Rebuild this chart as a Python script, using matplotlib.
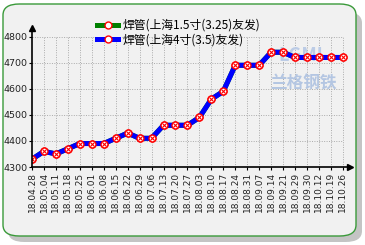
import matplotlib.pyplot as plt
from matplotlib.patches import FancyBboxPatch

plt.rcParams["font.family"] = ["Noto Sans CJK SC", "DejaVu Sans"]

dates = ["18.04.28", "18.05.04", "18.05.11", "18.05.18", "18.05.25", "18.06.01",
         "18.06.08", "18.06.15", "18.06.22", "18.06.29", "18.07.06", "18.07.13",
         "18.07.20", "18.07.27", "18.08.03", "18.08.10", "18.08.17", "18.08.24",
         "18.08.31", "18.09.07", "18.09.14", "18.09.21", "18.09.29", "18.09.30",
         "18.10.12", "18.10.19", "18.10.26"]
pipe_15 = [4330, 4360, 4350, 4370, 4390, 4390, 4390, 4410, 4430, 4410, 4410, 4460,
           4460, 4460, 4490, 4560, 4590, 4690, 4690, 4690, 4740, 4740, 4720, 4720,
           4720, 4720, 4720]
pipe_4 = [4330, 4360, 4350, 4370, 4390, 4390, 4390, 4410, 4430, 4410, 4410, 4460,
          4460, 4460, 4490, 4560, 4590, 4690, 4690, 4690, 4740, 4740, 4720, 4720,
          4720, 4720, 4720]
yticks = [4300, 4400, 4500, 4600, 4700, 4800]
series_names = ["焊管(上海1.5寸(3.25)友发)", "焊管(上海4寸(3.5)友发)"]

W, H = 365, 245
fig = plt.figure(figsize=(W / 100, H / 100), dpi=100, facecolor="white")

# rounded panel with shadow
shadow = FancyBboxPatch((8 / W, 3 / H), 354 / W, 230 / H,
                        boxstyle="round,pad=0,rounding_size=0.045",
                        transform=fig.transFigure, facecolor="#c4c4c4",
                        edgecolor="none", zorder=-2)
panel = FancyBboxPatch((3 / W, 9 / H), 353 / W, 232 / H,
                       boxstyle="round,pad=0,rounding_size=0.045",
                       transform=fig.transFigure, facecolor="#f1f1f1",
                       edgecolor="#3a9a3a", linewidth=1.0, zorder=-1)
fig.patches.extend([shadow, panel])

ax = fig.add_axes([32 / W, (H - 167) / H, 318 / W, 139 / H])
ax.set_zorder(2)
ax.set_facecolor("none")
x = list(range(len(dates)))
ax.set_xlim(0, len(dates) - 1 + 0.6)
ax.set_ylim(4300, 4833)

ax.vlines(x[1:], yticks[0], yticks[-1], colors="#aaaaaa", linestyles=(0, (1, 1.5)), linewidth=0.7, zorder=1)
ax.hlines(yticks[1:], 0, x[-1], colors="#aaaaaa", linestyles=(0, (1, 1.5)), linewidth=0.7, zorder=1)

# faint watermark
ax.text(22.7, 4622, "兰格钢铁", fontsize=12, color="#b4c6e2", fontweight="bold",
        ha="center", va="center", zorder=1)
ax.text(22.5, 4729, "LGMI", fontsize=13, color="#bccce6", fontweight="bold",
        style="italic", ha="center", va="center", zorder=1)

ax.plot(x, pipe_15, color="green", linewidth=3.6, marker="o", markersize=5,
        markerfacecolor="white", markeredgecolor="red", markeredgewidth=1.0,
        label=series_names[0], zorder=3)
ax.plot(x, pipe_4, color="blue", linewidth=3.6, marker="o", markersize=5,
        markerfacecolor="white", markeredgecolor="red", markeredgewidth=1.0,
        label=series_names[1], zorder=4)
ax.plot(x, pipe_4, linestyle="none", marker="x", markersize=2.5, color="red",
        markeredgewidth=0.8, zorder=5)

for side in ("top", "right"):
    ax.spines[side].set_visible(False)
for side in ("left", "bottom"):
    ax.spines[side].set_linewidth(1.2)
    ax.spines[side].set_zorder(6)
ax.plot(1, 0, ">k", markersize=5, transform=ax.transAxes, clip_on=False)
ax.plot(0, 1, "^k", markersize=5, transform=ax.transAxes, clip_on=False)

ax.set_yticks(yticks)
ax.set_yticklabels([str(v) for v in yticks], fontsize=6.8, color="#222222", family="DejaVu Sans")
ax.set_xticks(x)
ax.set_xticklabels(dates, rotation=90, fontsize=6.5, color="#222222", family="DejaVu Sans")
ax.tick_params(axis="both", length=2, width=0.8, pad=1.5)

ax.legend(loc="upper left", bbox_to_anchor=(91 / W, 1 - 13 / H), bbox_transform=fig.transFigure,
          frameon=False, fontsize=8.5, handlelength=1.8, handletextpad=0.4,
          labelspacing=0.1, borderpad=0)

fig.savefig("out.png", dpi=100)
